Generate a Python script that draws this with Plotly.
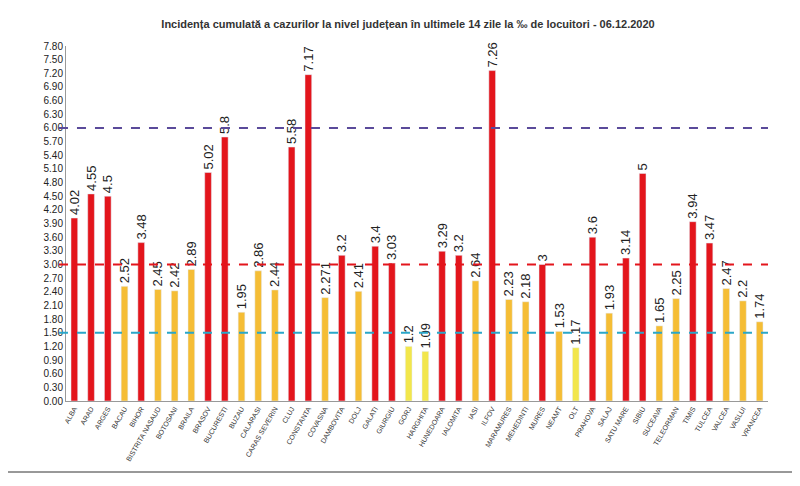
import plotly.graph_objects as go

judete = ["ALBA", "ARAD", "ARGES", "BACAU", "BIHOR", "BISTRITA NASAUD", "BOTOSANI", "BRAILA",
          "BRASOV", "BUCURESTI", "BUZAU", "CALARASI", "CARAS SEVERIN", "CLUJ", "CONSTANTA",
          "COVASNA", "DAMBOVITA", "DOLJ", "GALATI", "GIURGIU", "GORJ", "HARGHITA", "HUNEDOARA",
          "IALOMITA", "IASI", "ILFOV", "MARAMURES", "MEHEDINTI", "MURES", "NEAMT", "OLT",
          "PRAHOVA", "SALAJ", "SATU MARE", "SIBIU", "SUCEAVA", "TELEORMAN", "TIMIS", "TULCEA",
          "VALCEA", "VASLUI", "VRANCEA"]
incidenta = [4.02, 4.55, 4.5, 2.52, 3.48, 2.45, 2.42, 2.89, 5.02, 5.8, 1.95, 2.86, 2.44, 5.58,
             7.17, 2.271, 3.2, 2.41, 3.4, 3.03, 1.2, 1.09, 3.29, 3.2, 2.64, 7.26, 2.23, 2.18, 3,
             1.53, 1.17, 3.6, 1.93, 3.14, 5, 1.65, 2.25, 3.94, 3.47, 2.47, 2.2, 1.74]
etichete = ["4.02", "4.55", "4.5", "2.52", "3.48", "2.45", "2.42", "2.89", "5.02", "5.8", "1.95",
            "2.86", "2.44", "5.58", "7.17", "2.271", "3.2", "2.41", "3.4", "3.03", "1.2", "1.09",
            "3.29", "3.2", "2.64", "7.26", "2.23", "2.18", "3", "1.53", "1.17", "3.6", "1.93",
            "3.14", "5", "1.65", "2.25", "3.94", "3.47", "2.47", "2.2", "1.74"]

def culoare(v):
    if v >= 3:
        return "#e3151c"
    if v >= 1.5:
        return "#f5bd35"
    return "#f2e64c"

fig = go.Figure(go.Bar(
    x=judete, y=incidenta, marker_color=[culoare(v) for v in incidenta],
    text=etichete, textposition="outside", textangle=-90, constraintext="none",
    textfont=dict(size=13, color="#222"), width=0.4, cliponaxis=False,
))

praguri = [(6.0, "#5a4a9a"), (3.0, "#e3151c"), (1.5, "#2aa7c9")]
for y, c in praguri:
    fig.add_shape(type="line", xref="paper", x0=-0.01, x1=1.0, y0=y, y1=y,
                  line=dict(color=c, width=2, dash="dash"))

fig.add_shape(type="line", xref="paper", yref="paper", x0=-0.09, x1=1.08, y0=-0.2, y1=-0.2,
              line=dict(color="#333", width=1))

fig.update_layout(
    title=dict(text="<b>Incidența cumulată a cazurilor la nivel județean în ultimele 14 zile la ‰ de locuitori - 06.12.2020</b>",
               x=0.5, y=0.975, font=dict(size=11, color="#333")),
    width=800, height=486, plot_bgcolor="white", paper_bgcolor="white",
    margin=dict(l=58, r=40, t=38, b=93),
    showlegend=False, font=dict(family="Liberation Sans"),
    yaxis=dict(range=[0, 7.8], tick0=0, dtick=0.3, tickformat=".2f", showgrid=False,
               showline=True, linecolor="#999", tickfont=dict(size=10, color="#222")),
    xaxis=dict(tickangle=-60, tickfont=dict(size=7, color="#333"), showline=True,
               linecolor="#999"),
)

fig.write_html("out.html")
